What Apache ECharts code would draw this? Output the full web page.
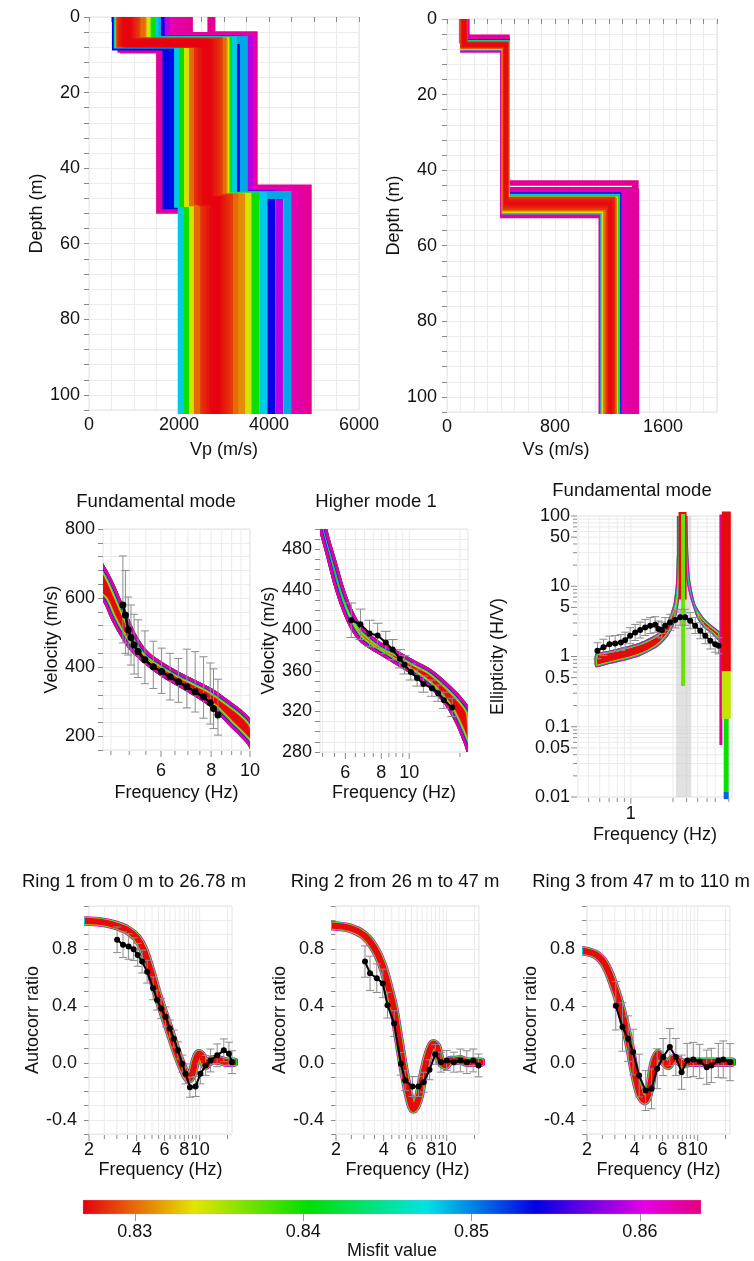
<!DOCTYPE html>
<html>
<head>
<meta charset="utf-8">
<title>Inversion results</title>
<script src="https://cdn.jsdelivr.net/npm/echarts@6/dist/echarts.min.js"></script>
<style>
html,body{margin:0;padding:0;background:#ffffff;}
#chart{width:754px;height:1261px;}
</style>
</head>
<body>
<div id="chart"></div>
<script>
// ======================= DATA =======================
// Misfit colour scale
const misfitMin = 0.82692, misfitMax = 0.86363;
const misfitTicks = [0.83, 0.84, 0.85, 0.86];
const misfitStops = [0, 0.18, 0.364, 0.555, 0.732, 0.909, 1];
const misfitColors = ['#e6000f', '#e4e400', '#00e000', '#00e4e4', '#0000e4', '#e400e4', '#e4007c'];

// Vp profiles (3 layers): misfit, velocity per layer, interface depths
const vpMisfit = [0.8630,0.8628,0.8626,0.8624,0.8622,0.8620,0.8630,0.8625,0.8590,0.8540,0.8540,0.8535,0.8490,0.8480,0.8480,0.8400,0.8400,0.8340,0.8340,0.8310,0.8300,0.8300,0.8286,0.8282,0.8278,0.8274,0.8270,0.8272,0.8276,0.8280,0.8284];
const vpLayer1 = [2720,2220,2100,2000,1900,1800,780,720,1700,1590,600,610,1510,1450,640,1390,660,1280,680,1190,1160,690,1050,1000,950,900,850,800,760,730,700];
const vpDepth1 = [4.8,5.0,5.2,5.3,5.5,5.6,8.6,8.4,5.9,6.0,7.8,7.6,6.1,6.2,7.3,6.3,7.1,6.4,7.0,6.5,6.5,7.0,6.4,6.6,6.8,6.9,7.0,6.8,6.7,6.9,7.1];
const vpLayer2 = [3660,3640,3630,3620,3610,3600,1580,1610,3560,3300,1720,1850,3440,3200,1980,3090,2090,3030,2200,2990,2960,2310,2880,2820,2760,2700,2640,2580,2520,2460,2420];
const vpDepth2 = [45.4,45.6,45.8,46.0,46.2,46.4,51.0,50.7,46.8,47.0,49.8,49.5,47.1,47.3,49.4,47.5,49.3,47.6,49.2,47.7,47.7,49.0,47.8,48.0,48.2,48.4,48.6,48.8,49.0,48.7,48.5];
const vpLayer3 = [4860,4800,4740,4660,4580,4520,2070,2070,4230,4050,2070,2070,4410,3870,2060,3690,2200,3520,2310,3380,3230,2420,3110,3040,2970,2900,2830,2760,2690,2620,2560];

// Vs profiles
const vsMisfit = [0.8630,0.8628,0.8626,0.8624,0.8622,0.8620,0.8619,0.8630,0.8625,0.8540,0.8480,0.8400,0.8340,0.8300,0.8480,0.8340,0.8300,0.8285,0.8278,0.8272,0.8276,0.8282];
const vsLayer1 = [152,150,148,146,144,142,140,112,114,103,105,140,139,138,110,112,114,112,119,126,133,139];
const vsDepth1 = [4.6,4.8,5.0,5.2,5.4,5.6,5.7,8.4,8.2,5.8,6.0,6.2,6.4,6.6,7.8,7.6,7.4,7.2,7.0,6.8,6.6,6.4];
const vsLayer2 = [449,448,447,446,446,445,444,408,411,452,451,449,447,445,418,421,424,427,431,435,439,442];
const vsDepth2 = [43.2,43.6,45.4,45.0,45.5,46.0,46.2,52.2,51.8,46.4,46.8,47.2,47.5,47.8,51.2,50.8,50.4,50.0,49.4,48.8,48.2,47.6];
const vsLayer3 = [1405,1385,1409,1360,1335,1310,1292,1137,1142,1276,1268,1260,1252,1244,1150,1160,1172,1190,1200,1210,1220,1232];

// Dispersion, fundamental mode: best-model band edges and observed curve
const fmBandF = [4.15,4.30,4.51,4.73,4.97,5.21,5.57,6.02,6.63,7.30,8.04,8.85,9.74,10.3];
const fmBandUp = [730,701,658,604,546,493,445,416,387,363,338,304,266,228];
const fmBandLow = [610,590,537,493,455,430,401,372,343,314,280,232,183,145];
const fmObsF = [4.82,4.89,4.97,5.05,5.14,5.26,5.47,5.74,6.02,6.32,6.63,6.96,7.30,7.66,7.96,8.11,8.32];
const fmObsV = [580,551,508,486,464,445,421,401,387,372,358,343,329,314,297,280,261];
const fmObsHi = [722,680,603,580,553,537,505,475,455,440,425,452,445,430,412,395,365];
const fmObsLo = [470,440,435,406,380,370,352,338,324,305,298,282,270,252,235,222,203];

// Dispersion, higher mode 1
const hmBandF = [4.7,5.18,5.58,6.04,6.54,7.08,8.09,9.23,10.5,12.0,13.7,15.5,16.5];
const hmBandUp = [560,501,469,436,413,400,387,379,370,361,347,331,318];
const hmBandLow = [520,470,436,410,393,384,374,364,354,341,321,288,262];
const hmObsF = [6.29,6.77,7.28,7.77,8.29,8.76,9.28,9.63,10.13,10.65,11.2,11.99,12.6,13.2,14.1];
const hmObsV = [410,406,397,395,388,381,372,366,359,353,347,343,338,331,324];
const hmObsErr = [17,15,13,12,11,10,9,9,8,8,8,8,8,8,9];

// Ellipticity: left and right branches of the model band, peak segments, observed curve
const elLeftUpF = [0.56,0.70,0.886,1.166,1.53,1.81,2.02,2.10,2.14,2.16];
const elLeftUpE = [1.09,1.21,1.35,1.58,2.09,3.06,5.6,11,35,300];
const elLeftLowF = [0.56,0.70,0.886,1.166,1.53,1.81,2.02,2.15,2.25,2.31,2.35,2.36];
const elLeftLowE = [0.71,0.78,0.87,1.02,1.35,1.87,2.75,4.5,8.7,22,80,300];
const elRightUpF = [2.52,2.53,2.58,2.65,2.88,3.30,3.69,4.23,4.37];
const elRightUpE = [300,100,25,12,5.6,3.6,2.9,2.33,2.25];
const elRightLowF = [2.36,2.38,2.43,2.52,2.65,2.96,3.30,3.79,4.23,4.37];
const elRightLowE = [300,80,25,11,7.0,3.6,2.6,2.09,1.67,1.6];
const elSegMisfit = [0.8630,0.8272,0.8345,0.8400,0.8510,0.8272,0.8372];
const elSegF = [4.39,4.80,4.80,4.79,4.79,2.34,2.36];
const elSegTop = [150,150,0.62,0.13,0.0118,150,150];
const elSegBottom = [0.055,0.62,0.13,0.0118,0.0093,6.5,0.38];
const elShadeF = [2.10,2.70];
const elObsF = [0.578,0.638,0.704,0.773,0.849,0.911,0.989,1.074,1.166,1.265,1.374,1.492,1.576,1.665,1.758,1.910,2.074,2.25,2.44,2.65,2.88,3.13,3.40,3.69,4.00,4.23];
const elObsE = [1.21,1.35,1.50,1.53,1.58,1.71,1.98,2.20,2.38,2.59,2.75,2.84,2.46,2.38,2.75,3.06,3.31,3.61,3.61,3.24,2.75,2.33,1.98,1.67,1.50,1.42];
const elObsHi = [1.57,1.76,1.95,1.99,2.05,2.22,2.57,2.86,3.09,3.37,3.58,3.69,3.20,3.09,3.58,3.98,4.30,4.69,4.69,4.21,3.58,3.03,2.57,2.17,1.95,1.85];
const elObsLo = [0.93,1.04,1.15,1.18,1.22,1.32,1.52,1.69,1.83,1.99,2.12,2.18,1.89,1.83,2.12,2.35,2.55,2.78,2.78,2.49,2.12,1.79,1.52,1.28,1.15,1.09];

// SPAC rings: best-model curve and observed autocorrelation ratios
const r1BandF = [1.9,2.36,2.86,3.48,4.02,4.43,4.88,5.38,5.93,6.54,7.21,7.95,8.55,8.97,9.42,9.89,10.4,10.9,11.4,12.3,13.5,14.9,16.5];
const r1BandV = [0.995,0.988,0.969,0.933,0.875,0.792,0.651,0.487,0.346,0.205,0.064,-0.054,-0.113,-0.078,0.016,0.064,0.040,-0.019,0.004,0.021,0.016,0.004,0.004];
const r1ObsF = [3.01,3.28,3.56,3.83,4.06,4.33,4.66,5.08,5.38,5.71,6.09,6.48,6.87,7.28,7.76,8.15,8.68,9.42,10.1,10.9,11.7,12.9,14.2,15.3,16.0];
const r1ObsV = [0.863,0.828,0.816,0.797,0.757,0.710,0.639,0.522,0.440,0.381,0.322,0.240,0.169,0.087,-0.007,-0.078,-0.172,-0.167,-0.078,-0.019,0.016,0.052,0.087,0.064,0.004];
const r1ObsErr = [0.09,0.09,0.09,0.08,0.08,0.08,0.08,0.08,0.07,0.07,0.07,0.06,0.06,0.06,0.06,0.07,0.07,0.07,0.07,0.07,0.08,0.08,0.08,0.08,0.08];
const r2BandF = [1.9,2.45,2.98,3.45,3.89,4.29,4.61,4.96,5.33,5.74,6.17,6.63,7.14,7.68,8.26,8.67,9.10,9.79,10.5,11.3,12.2,13.4,14.8,16.5];
const r2BandV = [0.962,0.945,0.898,0.816,0.698,0.533,0.392,0.181,-0.031,-0.219,-0.325,-0.254,-0.078,0.064,0.134,0.110,0.016,-0.019,0.016,0.016,0.021,0.004,0.004,0.004];
const r2ObsF = [3.05,3.28,3.62,3.95,4.23,4.66,5.14,5.47,6.08,6.63,7.14,7.79,8.47,9.20,10.0,11.1,12.2,13.4,14.7,15.9];
const r2ObsV = [0.710,0.628,0.593,0.557,0.404,0.275,-0.007,-0.125,-0.167,-0.167,-0.137,-0.049,0.059,0.004,0.016,0.004,0.016,0.004,0.016,-0.019];
const r2ObsErr = [0.11,0.12,0.10,0.10,0.09,0.09,0.08,0.07,0.07,0.07,0.07,0.07,0.07,0.07,0.07,0.07,0.08,0.08,0.08,0.08];
const r3BandF = [1.9,2.29,2.65,3.07,3.38,3.73,4.01,4.31,4.64,4.99,5.29,5.63,6.05,6.51,7.00,7.53,8.11,8.93,10.3,12.5,16.5];
const r3BandV = [0.785,0.757,0.674,0.487,0.322,0.110,-0.078,-0.219,-0.266,-0.172,-0.007,0.064,0.016,-0.019,0.028,0.016,-0.007,0.004,0.004,0.004,0.004];
const r3ObsF = [3.04,3.35,3.64,3.91,4.27,4.69,5.11,5.55,6.05,6.67,7.28,7.91,8.59,9.38,10.3,11.4,12.2,13.5,14.5,16.0];
const r3ObsV = [0.400,0.251,0.169,0.075,-0.090,-0.195,-0.183,-0.042,0.040,0.110,0.040,-0.066,0.016,0.023,0.009,-0.031,-0.019,0.016,0.023,0.004];
const r3ObsErr = [0.17,0.17,0.16,0.16,0.15,0.14,0.14,0.14,0.13,0.13,0.13,0.12,0.12,0.12,0.12,0.12,0.12,0.12,0.13,0.13];

// Tick values / labels for log axes
const dispMajorTicks = [6, 8, 10];
const dispMinorTicks = [4.5, 5, 5.5, 6.5, 7, 7.5, 8.5, 9, 9.5];
const hmMajorTicks = [6, 8, 10];
const hmMinorTicks = [5, 5.5, 6.5, 7, 7.5, 8.5, 9, 9.5, 15];
const elFreqMajorTicks = [1];
const elFreqMinorTicks = [0.5, 0.6, 0.7, 0.8, 0.9, 2, 2.5, 3, 3.5, 4, 5];
const elMajorTicks = [0.01, 0.05, 0.1, 0.5, 1, 5, 10, 50, 100];
const elMajorLabels = ['0.01', '0.05', '0.1', '0.5', '1', '5', '10', '50', '100'];
const elMinorTicks = [0.02,0.03,0.04,0.06,0.07,0.08,0.09,0.2,0.3,0.4,0.6,0.7,0.8,0.9,2,3,4,6,7,8,9,20,30,40,60,70,80,90];
const ringMajorTicks = [2, 4, 6, 8, 10];
const ringMinorTicks = [2.5, 3, 3.5, 4.5, 5, 5.5, 6.5, 7, 7.5, 8.5, 9, 9.5, 15];

const panelTitles = ['Fundamental mode', 'Higher mode 1', 'Fundamental mode', 'Ring 1 from 0 m to 26.78 m', 'Ring 2 from 26 m to 47 m', 'Ring 3 from 47 m to 110 m', 'Vs (m/s)'];

// ======================= STYLE / LAYOUT =======================
const FONT = '"Liberation Sans", Arial, Helvetica, sans-serif';
const TXT = '#111111';
const GRID_COLOR = '#ebebeb';
const TICK_COLOR = '#8a8a8a';
const ERR_COLOR = '#8c8c8c';
const BEST = 0.8272;
const DEPTH_END = 112;
const titlePos = [[156, 502], [376, 502], [632, 491], [134, 882], [395, 882], [641, 882], [556, 450]];
const titleSize = [18.5, 18.5, 18.5, 18.5, 18.5, 18.5, 18];
const bandLayersDisp = [{m:0.8300,w:12},{m:0.8340,w:10.6},{m:0.8400,w:9.2},{m:0.8480,w:7.8},{m:0.8540,w:7},{m:0.8625,w:6}];
const bandLayersEll = [{m:0.8340,w:5},{m:0.8400,w:4},{m:0.8480,w:3},{m:0.8625,w:2}];
const ringLayers = [{m:0.8625,w:9.5},{m:0.8480,w:8.2},{m:0.8400,w:7.5},{m:0.8340,w:7},{m:0.8272,w:6.3}];
const elSegWidths = [3, 9, 9, 5, 5, 8, 4];

function hexToRgb(h) { const n = parseInt(h.slice(1), 16); return [(n >> 16) & 255, (n >> 8) & 255, n & 255]; }
function misfitColor(m) {
  let t = (m - misfitMin) / (misfitMax - misfitMin);
  t = Math.max(0, Math.min(1, t));
  for (let i = 1; i < misfitStops.length; i++) {
    if (t <= misfitStops[i]) {
      const a = hexToRgb(misfitColors[i - 1]), b = hexToRgb(misfitColors[i]);
      const u = (t - misfitStops[i - 1]) / (misfitStops[i] - misfitStops[i - 1]);
      return 'rgb(' + a.map((c, k) => Math.round(c + (b[k] - c) * u)).join(',') + ')';
    }
  }
  return misfitColors[misfitColors.length - 1];
}

const gridBoxes = [
  {left: 89, top: 17, width: 270, height: 393},
  {left: 447, top: 19, width: 270, height: 393},
  {left: 103, top: 529, width: 147, height: 221},
  {left: 320, top: 529, width: 148, height: 223},
  {left: 578, top: 516, width: 154, height: 281},
  {left: 89, top: 906, width: 143, height: 228},
  {left: 336, top: 906, width: 143, height: 228},
  {left: 587, top: 906, width: 143, height: 228},
  {left: 83, top: 1200, width: 618, height: 15}
];
const grids = gridBoxes.map((g, i) => Object.assign({show: i < 8, borderColor: '#e3e3e3', borderWidth: 1, backgroundColor: 'transparent'}, g));

const nameStyle = {fontSize: 18, fontFamily: FONT, color: TXT};
function valAxis(gi, o) {
  return {
    type: 'value', gridIndex: gi, min: o.min, max: o.max, interval: o.step, inverse: !!o.inverse,
    position: o.pos, axisLine: {show: false},
    axisTick: {show: true, length: 5, lineStyle: {color: TICK_COLOR}},
    axisLabel: {show: true, margin: o.margin, fontSize: 18, fontFamily: FONT, color: TXT, formatter: o.fmt},
    splitLine: {show: true, lineStyle: {color: GRID_COLOR, width: 1}},
    name: o.name, nameLocation: 'middle', nameGap: o.gap, nameTextStyle: nameStyle
  };
}
function logAxis(gi, o) {
  return {
    type: 'log', logBase: 10, gridIndex: gi, min: o.min, max: o.max, position: o.pos,
    axisLine: {show: false}, axisTick: {show: false}, axisLabel: {show: false},
    splitLine: {show: false}, minorTick: {show: false}, minorSplitLine: {show: false},
    name: o.name, nameLocation: 'middle', nameGap: o.gap, nameTextStyle: nameStyle
  };
}

const xAxes = [
  valAxis(0, {min: 0, max: 6000, step: 500, pos: 'bottom', margin: 6, fmt: v => (v % 2000 === 0 ? String(v) : ''), name: 'Vp (m/s)', gap: 31}),
  valAxis(1, {min: 0, max: 2000, step: 100, pos: 'bottom', margin: 6, fmt: v => (v % 800 === 0 ? String(v) : ''), name: '', gap: 31}),
  logAxis(2, {min: 4.3, max: 10, pos: 'bottom', name: 'Frequency (Hz)', gap: 34}),
  logAxis(3, {min: 4.9, max: 16, pos: 'bottom', name: 'Frequency (Hz)', gap: 32}),
  logAxis(4, {min: 0.42, max: 5.27, pos: 'bottom', name: 'Frequency (Hz)', gap: 29}),
  logAxis(5, {min: 2, max: 16, pos: 'bottom', name: 'Frequency (Hz)', gap: 27}),
  logAxis(6, {min: 2, max: 16, pos: 'bottom', name: 'Frequency (Hz)', gap: 27}),
  logAxis(7, {min: 2, max: 16, pos: 'bottom', name: 'Frequency (Hz)', gap: 27}),
  {
    type: 'value', gridIndex: 8, min: misfitMin, max: misfitMax, position: 'bottom',
    axisLine: {show: false}, splitLine: {show: false},
    axisTick: {show: true, length: 7, lineStyle: {color: '#9a9a9a'}, customValues: misfitTicks},
    axisLabel: {show: true, customValues: misfitTicks, margin: 9, fontSize: 18, fontFamily: FONT, color: TXT, formatter: v => v.toFixed(2)},
    name: 'Misfit value', nameLocation: 'middle', nameGap: 28, nameTextStyle: nameStyle
  }
];
const ringFmt = v => { const k = Math.round(v * 10); return k % 4 === 0 ? (k / 10).toFixed(1) : ''; };
const yAxes = [
  valAxis(0, {min: 0, max: 104, step: 4, inverse: true, pos: 'left', margin: 9, fmt: v => (v % 20 === 0 && v <= 100 ? String(v) : ''), name: 'Depth (m)', gap: 41}),
  valAxis(1, {min: 0, max: 104, step: 4, inverse: true, pos: 'left', margin: 10, fmt: v => (v % 20 === 0 && v <= 100 ? String(v) : ''), name: 'Depth (m)', gap: 42}),
  valAxis(2, {min: 160, max: 800, step: 40, pos: 'left', margin: 8, fmt: v => (v % 200 === 0 ? String(v) : ''), name: 'Velocity (m/s)', gap: 41}),
  valAxis(3, {min: 280, max: 500, step: 10, pos: 'left', margin: 8, fmt: v => ((v - 280) % 40 === 0 ? String(v) : ''), name: 'Velocity (m/s)', gap: 38}),
  logAxis(4, {min: 0.01, max: 100, pos: 'left', name: 'Ellipticity (H/V)', gap: 71}),
  valAxis(5, {min: -0.5, max: 1.1, step: 0.1, pos: 'left', margin: 12, fmt: ringFmt, name: 'Autocorr ratio', gap: 39}),
  valAxis(6, {min: -0.5, max: 1.1, step: 0.1, pos: 'left', margin: 12, fmt: ringFmt, name: 'Autocorr ratio', gap: 39}),
  valAxis(7, {min: -0.5, max: 1.1, step: 0.1, pos: 'left', margin: 12, fmt: ringFmt, name: 'Autocorr ratio', gap: 39}),
  {type: 'value', gridIndex: 8, min: 0, max: 1, show: false}
];

// ---------- series builders ----------
function profileSeries(gi, mis, v1, d1, v2, d2, v3, width) {
  const order = mis.map((m, i) => i).sort((a, b) => mis[b] - mis[a]);
  return order.map(i => ({
    type: 'line', xAxisIndex: gi, yAxisIndex: gi, z: 2, silent: true, symbol: 'none', showSymbol: false,
    data: [[v1[i], 0], [v1[i], d1[i]], [v2[i], d1[i]], [v2[i], d2[i]], [v3[i], d2[i]], [v3[i], DEPTH_END]],
    lineStyle: {color: misfitColor(mis[i]), width: width, cap: 'butt', join: 'miter'}
  }));
}
function bandPolygon(gi, upF, upV, loF, loV, layers, smooth) {
  return {
    type: 'custom', xAxisIndex: gi, yAxisIndex: gi, z: 2, silent: true,
    data: [[upF[1], upV[1]]],
    renderItem: function (p, api) {
      const cs = p.coordSys, pts = [];
      for (let i = 0; i < upF.length; i++) pts.push(api.coord([upF[i], upV[i]]));
      for (let i = loF.length - 1; i >= 0; i--) pts.push(api.coord([loF[i], loV[i]]));
      const kids = [{type: 'polygon', shape: {points: pts, smooth: smooth}, style: {fill: misfitColor(BEST), stroke: 'none'}}];
      layers.forEach(l => kids.push({type: 'polygon', shape: {points: pts, smooth: smooth},
        style: {fill: 'none', stroke: misfitColor(l.m), lineWidth: l.w, lineJoin: 'round'}}));
      return {
        type: 'group',
        clipPath: {type: 'rect', shape: {x: cs.x, y: cs.y, width: cs.width, height: cs.height}},
        children: [{type: 'group', clipPath: {type: 'polygon', shape: {points: pts, smooth: smooth}}, children: kids}]
      };
    }
  };
}
function curveBand(gi, F, V, smooth) {
  return ringLayers.map(l => ({
    type: 'line', xAxisIndex: gi, yAxisIndex: gi, z: 2, silent: true, symbol: 'none', showSymbol: false,
    smooth: smooth, data: F.map((f, i) => [f, V[i]]),
    lineStyle: {color: misfitColor(l.m), width: l.w, cap: 'round', join: 'round'}
  }));
}
function obsSeries(gi, F, V, size, width) {
  return {
    type: 'line', xAxisIndex: gi, yAxisIndex: gi, z: 4, silent: true,
    data: F.map((f, i) => [f, V[i]]), symbol: 'circle', symbolSize: size, showSymbol: true, showAllSymbol: true,
    itemStyle: {color: '#000'}, lineStyle: {color: '#000', width: width}
  };
}
function errSeries(gi, F, lo, hi, cap) {
  return {
    type: 'custom', xAxisIndex: gi, yAxisIndex: gi, z: 3, silent: true,
    data: F.map((f, i) => [f, lo[i], hi[i]]),
    encode: {x: 0, y: [1, 2]},
    renderItem: function (p, api) {
      const a = api.coord([api.value(0), api.value(1)]), b = api.coord([api.value(0), api.value(2)]);
      const st = {stroke: ERR_COLOR, lineWidth: 1};
      return {type: 'group', children: [
        {type: 'line', shape: {x1: a[0], y1: a[1], x2: b[0], y2: b[1]}, style: st},
        {type: 'line', shape: {x1: a[0] - cap, y1: a[1], x2: a[0] + cap, y2: a[1]}, style: st},
        {type: 'line', shape: {x1: b[0] - cap, y1: b[1], x2: b[0] + cap, y2: b[1]}, style: st}
      ]};
    }
  };
}
function logDecor(gi, dir, majors, labels, minors, at, labGap) {
  const vals = majors.concat(minors);
  const pt = v => (dir === 'x' ? [v, at] : [at, v]);
  const gridS = {
    type: 'custom', xAxisIndex: gi, yAxisIndex: gi, z: 1, silent: true,
    data: vals.map(pt),
    renderItem: function (p, api) {
      const cs = p.coordSys, c = api.coord(pt(vals[p.dataIndex]));
      const shape = dir === 'x' ? {x1: c[0], y1: cs.y, x2: c[0], y2: cs.y + cs.height}
                                : {x1: cs.x, y1: c[1], x2: cs.x + cs.width, y2: c[1]};
      return {type: 'line', shape: shape, style: {stroke: GRID_COLOR, lineWidth: 1}};
    }
  };
  const tickS = {
    type: 'custom', xAxisIndex: gi, yAxisIndex: gi, z: 6, silent: true,
    data: vals.map(pt),
    renderItem: function (p, api) {
      const cs = p.coordSys, i = p.dataIndex, c = api.coord(pt(vals[i]));
      const major = i < majors.length, len = major ? 6 : 4, kids = [];
      const tst = {stroke: TICK_COLOR, lineWidth: 1};
      if (dir === 'x') {
        const y0 = cs.y + cs.height + 1;
        kids.push({type: 'line', shape: {x1: c[0], y1: y0, x2: c[0], y2: y0 + len}, style: tst});
        if (major) kids.push({type: 'text', x: c[0], y: cs.y + cs.height + labGap,
          style: {text: labels[i], font: '18px ' + FONT, fill: TXT, align: 'center', verticalAlign: 'top', textAlign: 'center', textVerticalAlign: 'top'}});
      } else {
        const x0 = cs.x - 1;
        kids.push({type: 'line', shape: {x1: x0 - len, y1: c[1], x2: x0, y2: c[1]}, style: tst});
        if (major) kids.push({type: 'text', x: cs.x - labGap, y: c[1],
          style: {text: labels[i], font: '18px ' + FONT, fill: TXT, align: 'right', verticalAlign: 'middle', textAlign: 'right', textVerticalAlign: 'middle'}});
      }
      return {type: 'group', children: kids};
    }
  };
  return [gridS, tickS];
}

// ---------- assemble ----------
let series = [];
series = series.concat(profileSeries(0, vpMisfit, vpLayer1, vpDepth1, vpLayer2, vpDepth2, vpLayer3, 8));
series = series.concat(profileSeries(1, vsMisfit, vsLayer1, vsDepth1, vsLayer2, vsDepth2, vsLayer3, 4));

series = series.concat(logDecor(2, 'x', dispMajorTicks, dispMajorTicks.map(String), dispMinorTicks, 160, 12));
series.push(bandPolygon(2, fmBandF, fmBandUp, fmBandF, fmBandLow, bandLayersDisp, 0.35));
series.push(errSeries(2, fmObsF, fmObsLo, fmObsHi, 4));
series.push(obsSeries(2, fmObsF, fmObsV, 7, 2.5));

series = series.concat(logDecor(3, 'x', hmMajorTicks, hmMajorTicks.map(String), hmMinorTicks, 280, 12));
series.push(bandPolygon(3, hmBandF, hmBandUp, hmBandF, hmBandLow, bandLayersDisp, 0.35));
series.push(errSeries(3, hmObsF, hmObsV.map((v, i) => v - hmObsErr[i]), hmObsV.map((v, i) => v + hmObsErr[i]), 5));
series.push(obsSeries(3, hmObsF, hmObsV, 6, 2));

series = series.concat(logDecor(4, 'x', elFreqMajorTicks, elFreqMajorTicks.map(String), elFreqMinorTicks, 0.01, 8));
series = series.concat(logDecor(4, 'y', elMajorTicks, elMajorLabels, elMinorTicks, 0.42, 8));
series.push({
  type: 'custom', xAxisIndex: 4, yAxisIndex: 4, z: 1, silent: true, data: [[elShadeF[0], 1]],
  renderItem: function (p, api) {
    const cs = p.coordSys, a = api.coord([elShadeF[0], 1]), b = api.coord([elShadeF[1], 1]);
    return {type: 'rect', shape: {x: a[0], y: cs.y, width: b[0] - a[0], height: cs.height}, style: {fill: 'rgba(205,205,205,0.6)'}};
  }
});
series.push(bandPolygon(4, elLeftUpF, elLeftUpE, elLeftLowF, elLeftLowE, bandLayersEll, 0.2));
series.push(bandPolygon(4, elRightUpF, elRightUpE, elRightLowF, elRightLowE, bandLayersEll, 0.2));
elSegF.forEach((f, i) => series.push({
  type: 'line', xAxisIndex: 4, yAxisIndex: 4, z: 2, silent: true, symbol: 'none', showSymbol: false,
  data: [[f, elSegTop[i]], [f, elSegBottom[i]]],
  lineStyle: {color: misfitColor(elSegMisfit[i]), width: elSegWidths[i], cap: 'butt'}
}));
series.push(errSeries(4, elObsF, elObsLo, elObsHi, 4));
series.push(obsSeries(4, elObsF, elObsE, 6, 2));

const ringData = [[r1BandF, r1BandV, r1ObsF, r1ObsV, r1ObsErr], [r2BandF, r2BandV, r2ObsF, r2ObsV, r2ObsErr], [r3BandF, r3BandV, r3ObsF, r3ObsV, r3ObsErr]];
ringData.forEach((r, k) => {
  const gi = 5 + k;
  series = series.concat(logDecor(gi, 'x', ringMajorTicks, ringMajorTicks.map(String), ringMinorTicks, -0.5, 7));
  series = series.concat(curveBand(gi, r[0], r[1], 0.3));
  series.push(errSeries(gi, r[2], r[3].map((v, i) => v - r[4][i]), r[3].map((v, i) => v + r[4][i]), 4));
  series.push(obsSeries(gi, r[2], r[3], 6, 2));
});

series.push({
  type: 'custom', xAxisIndex: 8, yAxisIndex: 8, silent: true, data: [[misfitMin, 0]],
  renderItem: function (p, api) {
    const a = api.coord([misfitMin, 1]), b = api.coord([misfitMax, 0]);
    return {type: 'rect', shape: {x: a[0], y: a[1], width: b[0] - a[0], height: b[1] - a[1]},
      style: {fill: new echarts.graphic.LinearGradient(0, 0, 1, 0, misfitStops.map((s, i) => ({offset: s, color: misfitColors[i]}))), stroke: 'rgba(230,150,190,0.6)', lineWidth: 0.5}};
  }
});

const chart = echarts.init(document.getElementById('chart'), null, {renderer: 'canvas'});
chart.setOption({
  animation: false,
  backgroundColor: '#ffffff',
  textStyle: {fontFamily: FONT},
  grid: grids,
  xAxis: xAxes,
  yAxis: yAxes,
  graphic: {elements: panelTitles.map((t, i) => ({
    type: 'text', x: titlePos[i][0], y: titlePos[i][1], silent: true,
    style: {text: t, font: titleSize[i] + 'px ' + FONT, fill: TXT, align: 'center', verticalAlign: 'middle', textAlign: 'center', textVerticalAlign: 'middle'}
  }))},
  series: series
});
</script>
</body>
</html>
